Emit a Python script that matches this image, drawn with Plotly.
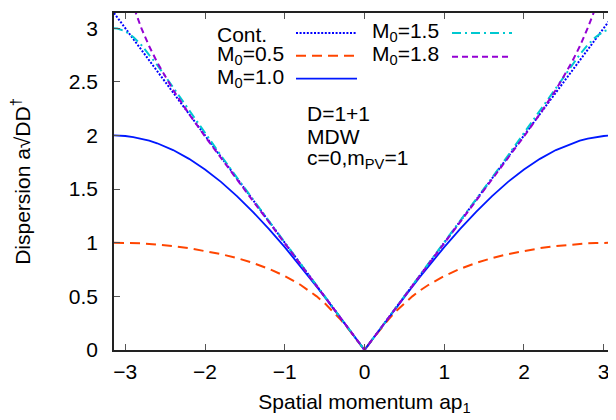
import plotly.graph_objects as go

# spatial momentum ap_1
p = [-3.1416, -3.1, -3.0, -2.9, -2.8, -2.7, -2.6, -2.4, -2.2, -2.0, -1.8, -1.6, -1.4, -1.2, -1.0,
     -0.8, -0.7, -0.6, -0.5, -0.4, -0.3, -0.2, -0.1, 0.0, 0.1, 0.2, 0.3, 0.4, 0.5, 0.6, 0.7, 0.8,
     1.0, 1.2, 1.4, 1.6, 1.8, 2.0, 2.2, 2.4, 2.6, 2.7, 2.8, 2.9, 3.0, 3.1, 3.1416]

cont = [3.1416, 3.1, 3.0, 2.9, 2.8, 2.7, 2.6, 2.4, 2.2, 2.0, 1.8, 1.6, 1.4, 1.2, 1.0,
        0.8, 0.7, 0.6, 0.5, 0.4, 0.3, 0.2, 0.1, 0.0, 0.1, 0.2, 0.3, 0.4, 0.5, 0.6, 0.7, 0.8,
        1.0, 1.2, 1.4, 1.6, 1.8, 2.0, 2.2, 2.4, 2.6, 2.7, 2.8, 2.9, 3.0, 3.1, 3.1416]

m05 = [1.000, 1.000, 0.999, 0.997, 0.994, 0.989, 0.984, 0.969, 0.949, 0.925, 0.894, 0.857, 0.812, 0.757, 0.690,
       0.606, 0.557, 0.500, 0.437, 0.365, 0.284, 0.195, 0.099, 0.0, 0.099, 0.195, 0.284, 0.365, 0.437, 0.500, 0.557, 0.606,
       0.690, 0.757, 0.812, 0.857, 0.894, 0.925, 0.949, 0.969, 0.984, 0.989, 0.994, 0.997, 0.999, 1.000, 1.000]

m10 = [2.000, 2.000, 1.995, 1.985, 1.971, 1.951, 1.927, 1.864, 1.782, 1.683, 1.567, 1.435, 1.288, 1.129, 0.959,
       0.779, 0.686, 0.591, 0.495, 0.397, 0.299, 0.200, 0.100, 0.0, 0.100, 0.200, 0.299, 0.397, 0.495, 0.591, 0.686, 0.779,
       0.959, 1.129, 1.288, 1.435, 1.567, 1.683, 1.782, 1.864, 1.927, 1.951, 1.971, 1.985, 1.995, 2.000, 2.000]

m15 = [3.000, 2.997, 2.971, 2.918, 2.844, 2.755, 2.657, 2.448, 2.234, 2.022, 1.813, 1.607, 1.404, 1.202, 1.001,
       0.800, 0.700, 0.600, 0.500, 0.400, 0.300, 0.200, 0.100, 0.0, 0.100, 0.200, 0.300, 0.400, 0.500, 0.600, 0.700, 0.800,
       1.001, 1.202, 1.404, 1.607, 1.813, 2.022, 2.234, 2.448, 2.657, 2.755, 2.844, 2.918, 2.971, 2.997, 3.000]

m18 = [3.600, 3.581, 3.418, 3.201, 3.002, 2.831, 2.682, 2.425, 2.200, 1.990, 1.787, 1.588, 1.391, 1.194, 0.996,
       0.798, 0.699, 0.599, 0.499, 0.400, 0.300, 0.200, 0.100, 0.0, 0.100, 0.200, 0.300, 0.400, 0.499, 0.599, 0.699, 0.798,
       0.996, 1.194, 1.391, 1.588, 1.787, 1.990, 2.200, 2.425, 2.682, 2.831, 3.002, 3.201, 3.418, 3.581, 3.600]

series_names = ["Cont.", "M<sub>0</sub>=0.5", "M<sub>0</sub>=1.0", "M<sub>0</sub>=1.5", "M<sub>0</sub>=1.8"]
series_vals = [cont, m05, m10, m15, m18]
colors = ["#0000ff", "#ff4500", "#0018ff", "#00c8d0", "#9400d3"]
dashes = ["2px,1.6px", "10px,6px", "solid", "9px,4px,2px,4px", "6px,4px"]
widths = [2, 2, 1.8, 2, 2]

x_ticks = [-3, -2, -1, 0, 1, 2, 3]
y_ticks = [0, 0.5, 1, 1.5, 2, 2.5, 3]

FONT = "Liberation Sans, Arial, sans-serif"
FS = 21

fig = go.Figure()
for name, vals, c, d, w in zip(series_names, series_vals, colors, dashes, widths):
    fig.add_trace(go.Scatter(x=p, y=vals, mode="lines", name=name, showlegend=False,
                             line=dict(color=c, dash=d, width=w)))

# The page body adds an 8px offset; geometry below is given in window pixels.
OFF = 8
W, H = 616, 420
L, R, T, B = 114 - OFF, 615 - OFF, 11 - OFF, 350 - OFF
def px(xp):
    return (xp - OFF - L) / (R - L)
def py(yp):
    return (B - (yp - OFF)) / (B - T)

# (text x, sample x0, sample x1, sample y, text y, series index)
key = [
    (215, 296, 357, 31, 33, 0),
    (215, 296, 357, 54, 53, 1),
    (215, 296, 357, 77, 76, 2),
    (370, 452, 512, 31, 30, 3),
    (370, 452, 512, 55, 53, 4),
]
for tx, x0, x1, ys, yt, i in key:
    fig.add_annotation(x=px(tx), y=py(yt), xref="paper", yref="paper", text=series_names[i],
                       showarrow=False, xanchor="left", yanchor="middle",
                       font=dict(family=FONT, size=FS, color="black"))
    fig.add_shape(type="line", xref="paper", yref="paper", x0=px(x0), x1=px(x1), y0=py(ys), y1=py(ys),
                  line=dict(color=colors[i], dash=dashes[i], width=widths[i]))

info = ["D=1+1", "MDW", "c=0,m<sub>PV</sub>=1"]
for j, t in enumerate(info):
    fig.add_annotation(x=px(305), y=py(112 + 23 * j), xref="paper", yref="paper", text=t,
                       showarrow=False, xanchor="left", yanchor="middle",
                       font=dict(family=FONT, size=FS, color="black"))

axis_common = dict(showgrid=False, zeroline=False, showline=True, linecolor="#222", linewidth=1.5,
                   mirror="ticks", ticks="inside", ticklen=6, tickwidth=1.2, tickcolor="#555",
                   tickfont=dict(family=FONT, size=FS, color="black"))

fig.update_layout(
    width=W, height=H,
    margin=dict(l=L, r=W - R, t=T, b=H - B),
    paper_bgcolor="white", plot_bgcolor="white",
    font=dict(family=FONT, size=FS, color="black"),
    xaxis=dict(range=[-3.1416, 3.1416], tickvals=x_ticks, ticktext=[("\u2212" + str(-v)) if v < 0 else str(v) for v in x_ticks],
               title=dict(text="Spatial momentum ap<sub>1</sub>", standoff=12, font=dict(family=FONT, size=FS)),
               ticklabelstandoff=2, **axis_common),
    yaxis=dict(range=[0, 3.1416], tickvals=y_ticks, ticktext=[f"{v:g}" for v in y_ticks],
               title=dict(text="Dispersion a\u221aDD<sup>\u2020</sup>", standoff=37, font=dict(family=FONT, size=FS)),
               ticklabelstandoff=10, **axis_common),
)

fig.write_html("out.html")
